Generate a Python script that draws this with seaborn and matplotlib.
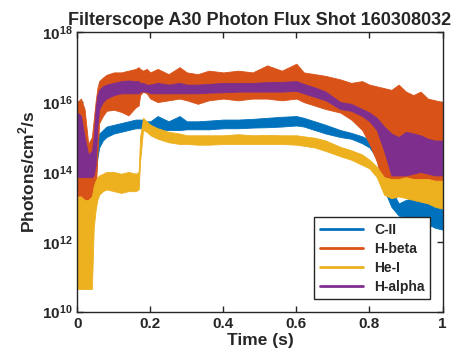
import numpy as np
import pandas as pd
import seaborn as sns
import matplotlib
matplotlib.use("Agg")
import matplotlib.pyplot as plt
from matplotlib.ticker import NullLocator

# values, log10(photons/cm^2/s), lower / upper edge of the noisy trace
time = [0.0, 0.01, 0.02, 0.03, 0.04, 0.045, 0.05, 0.055, 0.06, 0.07, 0.08, 0.10, 0.12, 0.14,
        0.16, 0.168, 0.172, 0.18, 0.19, 0.20, 0.22, 0.25, 0.28, 0.30, 0.33, 0.36, 0.40, 0.44,
        0.48, 0.52, 0.56, 0.60, 0.62, 0.65, 0.68, 0.72, 0.75, 0.78, 0.80, 0.82, 0.84, 0.86,
        0.88, 0.90, 0.92, 0.94, 0.96, 0.98, 1.0]

cII_lo = [13.0, 13.0, 13.0, 12.95, 13.0, 13.2, 13.8, 14.4, 14.7, 14.9, 15.0, 15.1, 15.15, 15.2,
          15.25, 15.25, 15.25, 15.25, 15.2, 15.2, 15.2, 15.2, 15.2, 15.22, 15.22, 15.22, 15.25, 15.25,
          15.27, 15.28, 15.3, 15.33, 15.3, 15.2, 15.1, 15.0, 14.95, 14.82, 14.7, 14.4, 13.5, 13.0,
          12.75, 12.7, 12.6, 12.55, 12.5, 12.4, 12.35]
cII_hi = [13.4, 13.4, 13.3, 13.3, 13.4, 14.0, 14.6, 14.9, 15.1, 15.2, 15.3, 15.35, 15.4, 15.45,
          15.5, 15.5, 15.5, 15.5, 15.45, 15.45, 15.6, 15.45, 15.6, 15.45, 15.45, 15.47, 15.5, 15.5,
          15.52, 15.55, 15.58, 15.6, 15.55, 15.45, 15.35, 15.2, 15.12, 15.02, 14.92, 14.75, 14.3, 13.5,
          13.1, 13.2, 13.25, 13.2, 13.1, 13.05, 13.0]

hbeta_lo = [13.3, 13.3, 13.2, 13.2, 13.1, 13.1, 13.3, 14.5, 15.4, 15.6, 15.75, 15.78, 15.72, 15.62,
            15.85, 15.9, 16.2, 16.3, 16.25, 16.1, 16.0, 16.05, 16.1, 16.05, 15.95, 16.05, 16.1, 16.05,
            16.1, 16.1, 16.05, 16.1, 16.0, 15.9, 15.8, 15.7, 15.5, 15.2, 14.8, 14.3, 13.5, 13.4,
            13.5, 13.6, 13.6, 13.6, 13.7, 13.7, 13.7]
hbeta_hi = [16.0, 16.1, 15.8, 14.8, 15.0, 15.5, 16.0, 16.4, 16.6, 16.7, 16.78, 16.85, 16.85, 16.9,
            16.95, 17.0, 16.95, 16.9, 16.95, 16.85, 16.95, 16.8, 17.0, 16.85, 16.8, 16.9, 16.85, 16.9,
            16.85, 17.05, 16.9, 17.1, 16.85, 16.8, 16.75, 16.65, 16.55, 16.6, 16.5, 16.45, 16.4, 16.35,
            16.5, 16.3, 16.2, 16.3, 16.1, 16.05, 16.0]

hei_lo = [10.65, 10.65, 10.65, 10.65, 10.65, 12.4, 12.9, 13.2, 13.35, 13.45, 13.5, 13.45, 13.4, 13.45,
          13.45, 13.5, 14.3, 15.2, 15.15, 15.05, 14.95, 14.85, 14.8, 14.8, 14.78, 14.78, 14.8, 14.8,
          14.8, 14.8, 14.8, 14.78, 14.75, 14.7, 14.6, 14.45, 14.35, 14.2, 14.1, 13.85, 13.35, 13.25,
          13.3, 13.25, 13.2, 13.15, 13.1, 13.0, 12.95]
hei_hi = [13.3, 13.3, 13.2, 13.2, 13.3, 13.6, 13.75, 13.85, 13.9, 13.95, 14.0, 14.0, 13.95, 14.0,
          13.95, 14.0, 15.0, 15.55, 15.45, 15.35, 15.25, 15.15, 15.1, 15.05, 15.05, 15.05, 15.05, 15.08,
          15.05, 15.06, 15.05, 15.05, 15.02, 14.98, 14.9, 14.72, 14.62, 14.5, 14.35, 14.15, 13.85, 13.8,
          13.8, 13.85, 13.8, 13.8, 13.8, 13.75, 13.75]

halpha_lo = [13.85, 13.85, 13.85, 13.85, 13.85, 13.9, 14.2, 15.3, 15.8, 16.0, 16.1, 16.2, 16.25, 16.25,
             16.25, 16.25, 16.3, 16.3, 16.3, 16.25, 16.25, 16.25, 16.25, 16.25, 16.25, 16.27, 16.28, 16.3,
             16.3, 16.3, 16.3, 16.32, 16.25, 16.15, 16.05, 15.8, 15.75, 15.6, 15.45, 15.2, 14.6, 13.9,
             13.9, 13.9, 13.95, 14.0, 13.95, 13.9, 13.9]
halpha_hi = [15.7, 15.6, 15.0, 14.5, 14.6, 15.0, 15.8, 16.2, 16.35, 16.45, 16.5, 16.55, 16.6, 16.62,
             16.6, 16.6, 16.55, 16.55, 16.5, 16.5, 16.55, 16.5, 16.55, 16.5, 16.5, 16.52, 16.55, 16.55,
             16.55, 16.57, 16.58, 16.6, 16.52, 16.42, 16.3, 16.0, 15.95, 15.8, 15.7, 15.55, 15.3, 15.1,
             15.0, 15.15, 15.1, 15.05, 14.95, 14.9, 14.9]

names = ["C-II", "H-beta", "He-I", "H-alpha"]
colors = ["#0072BD", "#D95319", "#EDB120", "#7E2F8E"]
series = {"C-II": (cII_lo, cII_hi), "H-beta": (hbeta_lo, hbeta_hi),
          "He-I": (hei_lo, hei_hi), "H-alpha": (halpha_lo, halpha_hi)}

rows = []
for name in names:
    lo, hi = series[name]
    for t, a, b in zip(time, lo, hi):
        rows.append((name, t, 10.0 ** a))
        rows.append((name, t, 10.0 ** b))
df = pd.DataFrame(rows, columns=["line", "time", "flux"])

sns.set_style("ticks")
plt.rcParams["font.family"] = ["Liberation Sans", "DejaVu Sans"]
plt.rcParams["font.weight"] = "bold"
plt.rcParams["mathtext.fontset"] = "custom"
plt.rcParams["mathtext.rm"] = "Liberation Sans:bold"
plt.rcParams["mathtext.bf"] = "Liberation Sans:bold"

fig = plt.figure(figsize=(4.52, 3.62), dpi=100)
ax = fig.add_axes([0.171, 0.139, 0.808, 0.772])
ax.set_yscale("log")

# min-max band of each trace; the centre line is hidden so the bands stack in hue order
sns.lineplot(data=df, x="time", y="flux", hue="line", hue_order=names,
             palette=colors, estimator="mean", errorbar=("pi", 100),
             err_kws={"alpha": 1, "linewidth": 0.6}, linewidth=0, ax=ax)

ax.set_xlim(0, 1)
ax.set_ylim(1e10, 1e18)
ax.set_xticks([0, 0.2, 0.4, 0.6, 0.8, 1])
ax.set_xticklabels(["0", "0.2", "0.4", "0.6", "0.8", "1"])
yt = [10, 12, 14, 16, 18]
ax.set_yticks([10.0 ** p for p in yt])
ax.set_yticklabels([r"$\mathbf{10^{%d}}$" % p for p in yt])
ax.yaxis.set_minor_locator(NullLocator())
ax.tick_params(direction="in", top=True, right=True, length=4, width=1,
               labelsize=11, color="#262626")
for sp in ax.spines.values():
    sp.set_color("#262626")
    sp.set_linewidth(1)

ax.set_xlabel("Time (s)", fontsize=12.5, fontweight="bold", labelpad=2)
ax.set_ylabel(r"Photons/cm$^{\mathbf{2}}$/s", fontsize=12.5, fontweight="bold", labelpad=3)
ax.set_title("Filterscope A30 Photon Flux Shot 160308032", fontsize=13,
             fontweight="bold", pad=5)

sns.move_legend(ax, "lower right", title=None, fontsize=10, handlelength=3.1,
                fancybox=False, edgecolor="#262626", framealpha=1,
                borderaxespad=0.9, labelspacing=0.35)
leg = ax.get_legend()
leg.get_frame().set_linewidth(1)
for h in leg.legend_handles:
    h.set_linewidth(2)

fig.savefig("out.png", dpi=100)
